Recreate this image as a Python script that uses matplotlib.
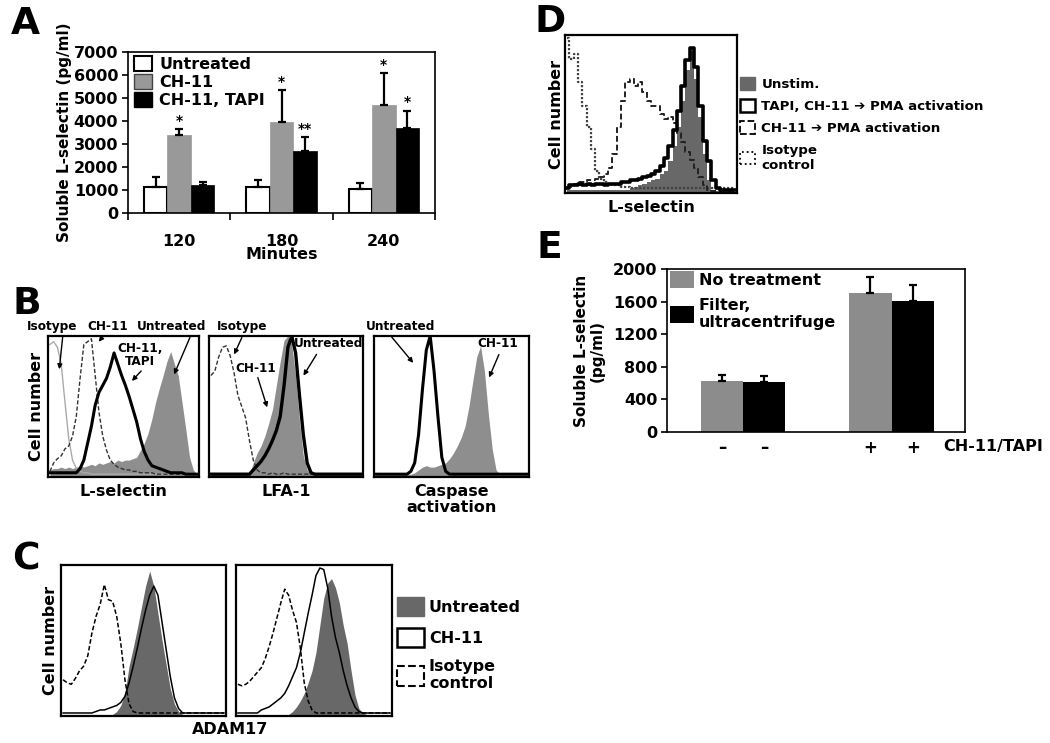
import numpy as np
import matplotlib
matplotlib.use('Agg')
import matplotlib.pyplot as plt
from matplotlib.patches import Patch

plt.rcParams['font.family'] = ['DejaVu Sans']
plt.rcParams['font.weight'] = 'bold'
plt.rcParams['axes.labelweight'] = 'bold'

W, H = 1050, 743

# ---------------- Panel A data ----------------
a_times = ['120', '180', '240']
a_series = ['Untreated', 'CH-11', 'CH-11, TAPI']
a_untreated = [1150, 1150, 1040]
a_untreated_err = [410, 270, 250]
a_ch11 = [3390, 3960, 4700]
a_ch11_err = [260, 1390, 1370]
a_tapi = [1220, 2700, 3680]
a_tapi_err = [130, 600, 770]
a_ch11_stars = ['*', '*', '*']
a_tapi_stars = ['', '**', '*']
a_yticks = [0, 1000, 2000, 3000, 4000, 5000, 6000, 7000]

# ---------------- Panel E data ----------------
e_ticklabels = ['\u2013', '\u2013', '+', '+']
e_series = ['No treatment', 'Filter,\nultracentrifuge']
e_no_treat = [630, 1700]
e_no_treat_err = [70, 205]
e_filter = [617, 1610]
e_filter_err = [73, 190]
e_yticks = [0, 400, 800, 1200, 1600, 2000]

# ---------------- Flow histograms (40 bins, fraction of panel height) ----------------
b1_isotype = [0.94, 0.96, 0.92, 0.80, 0.53, 0.27, 0.12, 0.06, 0.04, 0.03, 0.03, 0.02, 0.02, 0.02, 0.02, 0.02, 0.02, 0.02, 0.02, 0.02,
              0.02, 0.02, 0.02, 0.02, 0.02, 0.02, 0.02, 0.02, 0.02, 0.02, 0.02, 0.02, 0.02, 0.02, 0.02, 0.02, 0.02, 0.02, 0.02, 0.02]
b1_ch11 = [0.04, 0.10, 0.13, 0.15, 0.20, 0.22, 0.29, 0.43, 0.70, 0.94, 0.96, 0.98, 0.72, 0.46, 0.29, 0.19, 0.12, 0.09, 0.07, 0.06,
           0.05, 0.05, 0.04, 0.04, 0.03, 0.03, 0.03, 0.03, 0.02, 0.02, 0.02, 0.02, 0.02, 0.02, 0.02, 0.02, 0.02, 0.02, 0.02, 0.02]
b1_tapi = [0.03, 0.03, 0.03, 0.03, 0.03, 0.03, 0.03, 0.03, 0.06, 0.12, 0.24, 0.36, 0.51, 0.60, 0.65, 0.70, 0.78, 0.88, 0.80, 0.72,
           0.65, 0.57, 0.48, 0.39, 0.27, 0.18, 0.12, 0.08, 0.07, 0.06, 0.05, 0.04, 0.03, 0.03, 0.03, 0.03, 0.02, 0.02, 0.02, 0.02]
b1_untreated = [0.05, 0.06, 0.06, 0.07, 0.06, 0.07, 0.06, 0.07, 0.08, 0.07, 0.08, 0.09, 0.08, 0.10, 0.09, 0.10, 0.11, 0.10, 0.12, 0.11,
                0.12, 0.12, 0.13, 0.14, 0.19, 0.24, 0.31, 0.41, 0.53, 0.63, 0.72, 0.82, 0.89, 0.80, 0.72, 0.53, 0.34, 0.14, 0.05, 0.02]

b2_isotype = [0.72, 0.75, 0.85, 0.92, 0.93, 0.86, 0.74, 0.58, 0.50, 0.42, 0.26, 0.12, 0.05, 0.03, 0.03, 0.02, 0.03, 0.02, 0.02, 0.03,
              0.02, 0.02, 0.02, 0.02, 0.02, 0.02, 0.02, 0.02, 0.02, 0.02, 0.02, 0.02, 0.02, 0.02, 0.02, 0.02, 0.02, 0.02, 0.02, 0.02]
b2_ch11 = [0.02, 0.02, 0.02, 0.02, 0.02, 0.02, 0.02, 0.02, 0.02, 0.02, 0.02, 0.10, 0.17, 0.22, 0.29, 0.38, 0.48, 0.65, 0.82, 0.97,
           1.00, 0.94, 0.72, 0.40, 0.15, 0.05, 0.02, 0.02, 0.02, 0.02, 0.02, 0.02, 0.02, 0.02, 0.02, 0.02, 0.02, 0.02, 0.02, 0.02]
b2_untreated = [0.02, 0.02, 0.02, 0.02, 0.02, 0.02, 0.02, 0.02, 0.02, 0.02, 0.02, 0.05, 0.08, 0.11, 0.15, 0.20, 0.26, 0.33, 0.43, 0.65,
                0.92, 1.00, 0.88, 0.58, 0.30, 0.10, 0.03, 0.02, 0.02, 0.02, 0.02, 0.02, 0.02, 0.02, 0.02, 0.02, 0.02, 0.02, 0.02, 0.02]

b3_untreated = [0.02, 0.02, 0.02, 0.02, 0.02, 0.02, 0.02, 0.02, 0.02, 0.04, 0.10, 0.30, 0.62, 0.90, 1.00, 0.75, 0.43, 0.14, 0.04, 0.02,
                0.02, 0.02, 0.02, 0.02, 0.02, 0.02, 0.02, 0.02, 0.02, 0.02, 0.02, 0.02, 0.02, 0.02, 0.02, 0.02, 0.02, 0.02, 0.02, 0.02]
b3_ch11 = [0.02, 0.02, 0.02, 0.02, 0.02, 0.02, 0.02, 0.02, 0.02, 0.02, 0.03, 0.05, 0.07, 0.08, 0.07, 0.07, 0.08, 0.09, 0.10, 0.13,
           0.17, 0.22, 0.28, 0.36, 0.50, 0.68, 0.85, 0.93, 0.75, 0.45, 0.20, 0.05, 0.02, 0.02, 0.02, 0.02, 0.02, 0.02, 0.02, 0.02]

c1_isotype = [0.24, 0.22, 0.21, 0.25, 0.30, 0.33, 0.40, 0.55, 0.66, 0.74, 0.87, 0.77, 0.76, 0.66, 0.48, 0.24, 0.08, 0.03, 0.02, 0.02,
              0.02, 0.02, 0.02, 0.02, 0.02, 0.02, 0.02, 0.02, 0.02, 0.02, 0.02, 0.02, 0.02, 0.02, 0.02, 0.02, 0.02, 0.02, 0.02, 0.02]
c1_untreated = [0.01, 0.01, 0.01, 0.01, 0.01, 0.01, 0.01, 0.01, 0.01, 0.01, 0.01, 0.01, 0.01, 0.03, 0.07, 0.15, 0.33, 0.45, 0.58, 0.72,
                0.86, 0.96, 0.86, 0.68, 0.50, 0.34, 0.18, 0.08, 0.03, 0.01, 0.01, 0.01, 0.01, 0.01, 0.01, 0.01, 0.01, 0.01, 0.01, 0.01]
c1_ch11 = [0.02, 0.02, 0.02, 0.02, 0.02, 0.02, 0.02, 0.02, 0.03, 0.04, 0.04, 0.05, 0.06, 0.07, 0.09, 0.13, 0.22, 0.33, 0.45, 0.58,
           0.70, 0.80, 0.86, 0.80, 0.62, 0.44, 0.26, 0.12, 0.05, 0.02, 0.02, 0.02, 0.02, 0.02, 0.02, 0.02, 0.02, 0.02, 0.02, 0.02]

c2_isotype = [0.21, 0.20, 0.21, 0.23, 0.26, 0.29, 0.32, 0.38, 0.46, 0.55, 0.65, 0.75, 0.84, 0.80, 0.70, 0.62, 0.45, 0.22, 0.10, 0.04,
              0.02, 0.02, 0.02, 0.02, 0.02, 0.02, 0.02, 0.02, 0.02, 0.02, 0.02, 0.02, 0.02, 0.02, 0.02, 0.02, 0.02, 0.02, 0.02, 0.02]
c2_ch11 = [0.02, 0.02, 0.02, 0.02, 0.02, 0.02, 0.04, 0.05, 0.06, 0.08, 0.10, 0.12, 0.15, 0.20, 0.26, 0.32, 0.42, 0.55, 0.68, 0.80,
           0.93, 0.98, 0.97, 0.85, 0.66, 0.52, 0.42, 0.30, 0.20, 0.12, 0.06, 0.03, 0.02, 0.02, 0.02, 0.02, 0.02, 0.02, 0.02, 0.02]
c2_untreated = [0.01, 0.01, 0.01, 0.01, 0.01, 0.01, 0.01, 0.01, 0.01, 0.01, 0.01, 0.01, 0.01, 0.01, 0.03, 0.06, 0.10, 0.15, 0.22, 0.30,
                0.42, 0.60, 0.78, 0.88, 0.91, 0.85, 0.75, 0.60, 0.48, 0.30, 0.14, 0.05, 0.02, 0.01, 0.01, 0.01, 0.01, 0.01, 0.01, 0.01]

d_isotype = [0.98, 0.85, 0.88, 0.70, 0.55, 0.42, 0.28, 0.14, 0.09, 0.07, 0.06, 0.05, 0.05, 0.04, 0.04, 0.03, 0.03, 0.03, 0.03, 0.03,
             0.03, 0.03, 0.03, 0.03, 0.03, 0.03, 0.03, 0.03, 0.03, 0.03, 0.03, 0.03, 0.03, 0.03, 0.03, 0.03, 0.03, 0.03, 0.03, 0.03]
d_ch11 = [0.03, 0.04, 0.06, 0.07, 0.07, 0.08, 0.08, 0.09, 0.10, 0.12, 0.16, 0.25, 0.42, 0.58, 0.70, 0.72, 0.68, 0.70, 0.64, 0.58,
          0.55, 0.55, 0.50, 0.47, 0.48, 0.44, 0.38, 0.32, 0.26, 0.21, 0.16, 0.10, 0.05, 0.02, 0.01, 0.01, 0.01, 0.01, 0.01, 0.01]
d_unstim = [0.02, 0.02, 0.02, 0.02, 0.02, 0.02, 0.02, 0.02, 0.02, 0.02, 0.02, 0.02, 0.02, 0.02, 0.02, 0.03, 0.04, 0.05, 0.06, 0.07,
            0.08, 0.09, 0.12, 0.14, 0.20, 0.30, 0.42, 0.58, 0.78, 0.90, 0.72, 0.48, 0.25, 0.08, 0.02, 0.01, 0.01, 0.01, 0.01, 0.01]
d_tapi = [0.03, 0.05, 0.05, 0.06, 0.05, 0.06, 0.05, 0.06, 0.06, 0.05, 0.06, 0.06, 0.06, 0.07, 0.07, 0.08, 0.08, 0.09, 0.10, 0.11,
          0.12, 0.14, 0.17, 0.22, 0.30, 0.40, 0.52, 0.68, 0.84, 0.92, 0.80, 0.55, 0.33, 0.20, 0.08, 0.03, 0.02, 0.02, 0.02, 0.02]

# ---------------- helpers ----------------
def rect(x0, y0, x1, y1):
    return [x0 / W, 1 - y1 / H, (x1 - x0) / W, (y1 - y0) / H]

def fp(x, y):
    return (x / W, 1 - y / H)

fig = plt.figure(figsize=(W / 100, H / 100), dpi=100)

def flow_axes(r):
    ax = fig.add_axes(r)
    ax.set_xlim(-0.5, 39.5)
    ax.set_ylim(0, 1.0)
    ax.set_xticks([])
    ax.set_yticks([])
    for s in ax.spines.values():
        s.set_linewidth(1.6)
    return ax

def panel_letter(x, y, t):
    fig.text(*fp(x, y), t, fontsize=27, fontweight='bold', ha='left', va='center')

def arrow(x0, y0, x1, y1):
    fig.add_artist(matplotlib.patches.FancyArrowPatch(
        fp(x0, y0), fp(x1, y1), transform=fig.transFigure,
        arrowstyle='-|>', mutation_scale=7, lw=1.0, color='black'))

FILL_B = '#8e8e8e'
FILL_C = '#686868'

# ================= Panel A =================
axA = fig.add_axes(rect(128, 52, 435, 213))
xa = np.arange(len(a_times))
bw = 0.23
ek = dict(ecolor='black', elinewidth=1.6, capsize=3, capthick=1.6)
axA.bar(xa - bw, a_untreated, bw, color='white', edgecolor='black', linewidth=1.5,
        yerr=[np.zeros(3), a_untreated_err], error_kw=ek, label=a_series[0], zorder=2)
axA.bar(xa, a_ch11, bw, color='#999999', edgecolor='#999999', linewidth=0.5,
        yerr=[np.zeros(3), a_ch11_err], error_kw=ek, label=a_series[1], zorder=2)
axA.bar(xa + bw, a_tapi, bw, color='black', edgecolor='black', linewidth=0.5,
        yerr=[np.zeros(3), a_tapi_err], error_kw=ek, label=a_series[2], zorder=2)
for i in range(3):
    axA.text(xa[i], a_ch11[i] + a_ch11_err[i] + 60, a_ch11_stars[i], ha='center', va='bottom', fontsize=10)
    if a_tapi_stars[i]:
        axA.text(xa[i] + bw, a_tapi[i] + a_tapi_err[i] + 60, a_tapi_stars[i], ha='center', va='bottom', fontsize=10)
axA.set_xlim(-0.5, 2.5)
axA.set_ylim(0, 7000)
axA.set_yticks(a_yticks)
axA.set_yticklabels([str(v) for v in a_yticks], fontsize=11.5)
axA.tick_params(axis='y', length=4, width=1.2, pad=3)
axA.set_xticks([-0.5, 0.5, 1.5, 2.5])
axA.set_xticklabels([])
axA.tick_params(axis='x', which='major', length=5, width=1.2)
axA.set_xticks(xa, minor=True)
axA.set_xticklabels(a_times, minor=True, fontsize=11.5)
axA.tick_params(axis='x', which='minor', length=0, pad=15)
axA.set_xlabel('Minutes', fontsize=11.5, labelpad=-1)
axA.set_ylabel('Soluble L-selectin (pg/ml)', fontsize=11, labelpad=1)
for s in axA.spines.values():
    s.set_linewidth(1.2)
axA.legend(handles=[Patch(facecolor='white', edgecolor='black', lw=1.5),
                    Patch(facecolor='#999999', edgecolor='#444444', lw=1),
                    Patch(facecolor='black', edgecolor='black', lw=1)],
           labels=a_series, loc='upper left', bbox_to_anchor=(0.005, 1.0), frameon=False,
           fontsize=11.5, handlelength=1.15, handleheight=1.1, labelspacing=0.12,
           handletextpad=0.45, borderaxespad=0.15, borderpad=0.1)
panel_letter(11, 24, 'A')

# ================= Panel B =================
xb = np.arange(40)
axB1 = flow_axes(rect(48, 336, 199, 477))
axB1.fill_between(xb, 0, b1_untreated, color=FILL_B, lw=0)
axB1.plot(xb, b1_isotype, color='#aaaaaa', lw=1.0)
axB1.plot(xb, b1_ch11, color='#333333', lw=1.0, ls=(0, (3, 1.5)))
axB1.plot(xb, b1_tapi, color='black', lw=2.2)
axB1.set_xlabel('L-selectin', fontsize=11.5, labelpad=5)
axB1.set_ylabel('Cell number', fontsize=11.5, labelpad=3)

axB2 = flow_axes(rect(209, 336, 363, 477))
axB2.fill_between(xb, 0, b2_ch11, color=FILL_B, lw=0)
axB2.plot(xb, b2_isotype, color='#333333', lw=1.0, ls=(0, (3, 1.5)))
axB2.plot(xb, b2_untreated, color='black', lw=2.4)
axB2.set_xlabel('LFA-1', fontsize=11.5, labelpad=5)

axB3 = flow_axes(rect(374, 336, 529, 477))
axB3.fill_between(xb, 0, b3_ch11, color=FILL_B, lw=0)
axB3.plot(xb, b3_untreated, color='black', lw=2.2)
axB3.set_xlabel('Caspase\nactivation', fontsize=11.5, labelpad=5, linespacing=1.05)

ann = dict(fontsize=8.7, fontweight='bold', ha='center', va='center')
fig.text(*fp(52, 327), 'Isotype', **ann)
fig.text(*fp(108, 327), 'CH-11', **ann)
fig.text(*fp(172, 327), 'Untreated', **ann)
fig.text(*fp(140, 355), 'CH-11,\nTAPI', linespacing=1.0, **ann)
fig.text(*fp(242, 327), 'Isotype', **ann)
fig.text(*fp(256, 368), 'CH-11', **ann)
fig.text(*fp(329, 343), 'Untreated', **ann)
fig.text(*fp(401, 327), 'Untreated', **ann)
fig.text(*fp(498, 343), 'CH-11', **ann)
arrow(63, 334, 59, 372)
arrow(104, 335, 97, 344)
arrow(191, 335, 173, 377)
arrow(143, 369, 130, 383)
arrow(243, 335, 233, 357)
arrow(257, 375, 268, 410)
arrow(318, 352, 302, 378)
arrow(390, 335, 415, 365)
arrow(500, 352, 488, 380)
panel_letter(12, 304, 'B')

# ================= Panel C =================
axC1 = flow_axes(rect(61, 565, 226, 716))
axC1.fill_between(xb, 0, c1_untreated, color=FILL_C, lw=0)
axC1.plot(xb, c1_isotype, color='black', lw=1.1, ls=(0, (3, 1.5)))
axC1.plot(xb, c1_ch11, color='black', lw=1.1)
axC1.set_ylabel('Cell number', fontsize=11.5, labelpad=2)

axC2 = flow_axes(rect(236, 565, 392, 716))
axC2.fill_between(xb, 0, c2_untreated, color=FILL_C, lw=0)
axC2.plot(xb, c2_isotype, color='black', lw=1.1, ls=(0, (3, 1.5)))
axC2.plot(xb, c2_ch11, color='black', lw=1.1)
fig.text(*fp(230, 729), 'ADAM17', fontsize=11.5, fontweight='bold', ha='center', va='center')

fig.legend(handles=[Patch(facecolor=FILL_C, edgecolor=FILL_C),
                    Patch(facecolor='white', edgecolor='black', lw=1.8),
                    Patch(facecolor='white', edgecolor='black', lw=1.5, ls='--')],
           labels=['Untreated', 'CH-11', 'Isotype\ncontrol'],
           loc='upper left', bbox_to_anchor=fp(397, 597), frameon=False,
           fontsize=11.5, handlelength=1.7, handleheight=1.5, labelspacing=0.72,
           handletextpad=0.3, borderpad=0, borderaxespad=0)
panel_letter(12, 560, 'C')

# ================= Panel D =================
axD = flow_axes(rect(565, 35, 737, 193))
axD.fill_between(xb, 0, d_unstim, step='mid', color=FILL_C, lw=0)
axD.plot(xb, d_isotype, color='#444444', lw=1.6, ls=(0, (1, 0.8)), drawstyle='steps-mid')
axD.plot(xb, d_ch11, color='#222222', lw=1.4, ls=(0, (3, 1.5)), drawstyle='steps-mid')
axD.plot(xb, d_tapi, color='black', lw=2.6, drawstyle='steps-mid')
axD.set_xlabel('L-selectin', fontsize=11.5, labelpad=5)
axD.set_ylabel('Cell number', fontsize=11.5, labelpad=1)
fig.legend(handles=[Patch(facecolor=FILL_C, edgecolor=FILL_C),
                    Patch(facecolor='white', edgecolor='black', lw=1.8),
                    Patch(facecolor='white', edgecolor='black', lw=1.3, ls='--'),
                    Patch(facecolor='white', edgecolor='black', lw=1.3, ls=':')],
           labels=['Unstim.', 'TAPI, CH-11 \u2794 PMA activation', 'CH-11 \u2794 PMA activation', 'Isotype\ncontrol'],
           loc='upper left', bbox_to_anchor=fp(740, 77), frameon=False,
           fontsize=9.6, handlelength=1.15, handleheight=1.1, labelspacing=0.62,
           handletextpad=0.45, borderpad=0, borderaxespad=0)
panel_letter(534, 22, 'D')

# ================= Panel E =================
axE = fig.add_axes(rect(667, 269, 965, 432))
xe = np.arange(2)
ew = 0.286
ekE = dict(ecolor='black', elinewidth=1.6, capsize=3, capthick=1.6)
axE.bar(xe - ew / 2, e_no_treat, ew, color='#8c8c8c', yerr=[np.zeros(2), e_no_treat_err],
        error_kw=ekE, label=e_series[0], zorder=2)
axE.bar(xe + ew / 2, e_filter, ew, color='black', yerr=[np.zeros(2), e_filter_err],
        error_kw=ekE, label=e_series[1], zorder=2)
axE.set_xlim(-0.512, 1.495)
axE.set_ylim(0, 2000)
axE.set_yticks(e_yticks)
axE.set_yticklabels([str(v) for v in e_yticks], fontsize=11.5)
axE.tick_params(axis='y', length=4, width=1.2, pad=3)
axE.set_xticks([xe[0] - ew / 2, xe[0] + ew / 2, xe[1] - ew / 2, xe[1] + ew / 2])
axE.set_xticklabels(e_ticklabels, fontsize=12)
axE.tick_params(axis='x', length=0, pad=5)
axE.set_ylabel('Soluble L-selectin\n(pg/ml)', fontsize=11, labelpad=6, linespacing=1.0)
for s in axE.spines.values():
    s.set_linewidth(1.2)
fig.text(*fp(943, 447), 'CH-11/TAPI', fontsize=11.5, fontweight='bold', ha='left', va='center')
axE.legend(loc='upper left', bbox_to_anchor=(0.01, 0.985), frameon=False,
           fontsize=11.5, handlelength=1.5, handleheight=1.2, labelspacing=0.6,
           handletextpad=0.3, borderpad=0, borderaxespad=0)
panel_letter(537, 248, 'E')

fig.savefig('out.png', dpi=100)
